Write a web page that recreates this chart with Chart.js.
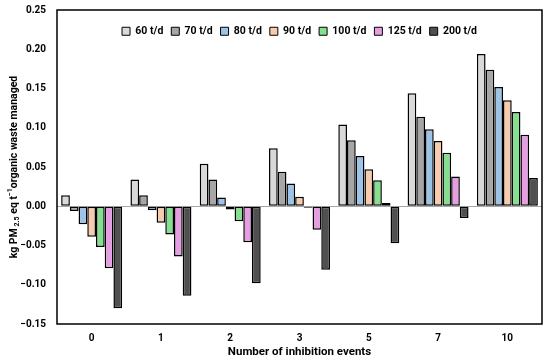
<!DOCTYPE html>
<html>
<head>
<meta charset="utf-8">
<script src="https://cdn.jsdelivr.net/npm/chart.js@4.4.1/dist/chart.umd.min.js"></script>
<style>
  html, body { margin: 0; padding: 0; background: #fff; }
  #wrap { width: 550px; height: 361px; }
</style>
</head>
<body>
<div id="wrap"><canvas id="pmChart"></canvas></div>
<script>
// Data
const events = ['0', '1', '2', '3', '5', '7', '10'];
const capacities = ['60 t/d', '70 t/d', '80 t/d', '90 t/d', '100 t/d', '125 t/d', '200 t/d'];
const fills = ['#d9d9d9', '#a6a6a6', '#9dc3e6', '#f8cbad', '#84df8e', '#e59ee2', '#505050'];

const pm60  = [0.014, 0.034, 0.054, 0.074, 0.104, 0.144, 0.194];
const pm70  = [-0.006, 0.014, 0.034, 0.044, 0.084, 0.114, 0.174];
const pm80  = [-0.023, -0.005, 0.011, 0.029, 0.064, 0.098, 0.152];
const pm90  = [-0.039, -0.021, -0.004, 0.012, 0.047, 0.083, 0.135];
const pm100 = [-0.052, -0.036, -0.019, -0.002, 0.033, 0.068, 0.120];
const pm125 = [-0.079, -0.064, -0.046, -0.030, 0.004, 0.038, 0.091];
const pm200 = [-0.130, -0.114, -0.098, -0.081, -0.047, -0.015, 0.036];

const yTicks = { min: -0.15, max: 0.25, step: 0.05 };

const FONT = "Roboto, 'Liberation Sans', Arial, sans-serif";
const series = [pm60, pm70, pm80, pm90, pm100, pm125, pm200];

// legend sits inside the plot box, so it should not take up layout height
const legendInside = {
    id: 'legendInside',
    beforeInit(chart) {
        const lg = chart.legend;
        const fit = lg.fit;
        lg.fit = function () {
            fit.bind(lg)();
            this.height = 0;
        };
        // skip the clip to the (now empty) legend box
        lg.draw = function () {
            if (!this.options.display) return;
            const ctx = this.ctx;
            ctx.save();
            ctx.translate(0, 8);
            this._draw();
            ctx.restore();
        };
    }
};

// black frame around the plot
const plotFrame = {
    id: 'plotFrame',
    afterDatasetsDraw(chart) {
        const a = chart.chartArea;
        const ctx = chart.ctx;
        ctx.save();
        ctx.strokeStyle = '#000';
        ctx.lineWidth = 1.5;
        ctx.strokeRect(a.left, a.top, a.right - a.left, a.bottom - a.top);
        ctx.restore();
    }
};

// rotated y title with subscript / superscript
const yTitle = {
    id: 'yTitle',
    afterDraw(chart) {
        const a = chart.chartArea;
        const ctx = chart.ctx;
        const parts = [
            { t: 'kg PM', s: 10.5, dy: 0 },
            { t: ' 2.5', s: 7, dy: 3 },
            { t: ' eq t', s: 10.5, dy: 0 },
            { t: '\u22121', s: 7, dy: -4 },
            { t: 'organic waste managed', s: 10.5, dy: 0 }
        ];
        ctx.save();
        let total = 0;
        parts.forEach(p => {
            ctx.font = 'bold ' + p.s + 'px ' + FONT;
            p.w = ctx.measureText(p.t).width;
            total += p.w;
        });
        ctx.translate(14, (a.top + a.bottom) / 2);
        ctx.rotate(-Math.PI / 2);
        ctx.fillStyle = '#000';
        ctx.textBaseline = 'middle';
        let x = -total / 2;
        parts.forEach(p => {
            ctx.font = 'bold ' + p.s + 'px ' + FONT;
            ctx.fillText(p.t, x, p.dy);
            x += p.w;
        });
        ctx.restore();
    }
};

function fmtTick(v) {
    if (Math.abs(v) < 1e-9) return '0.00';
    const s = Math.abs(v).toFixed(2);
    return v < 0 ? '\u2212' + s : s;
}

function createChart() {
    const ctx = document.getElementById('pmChart');
    new Chart(ctx, {
        type: 'bar',
        data: {
            labels: events,
            datasets: capacities.map((name, i) => ({
                label: name,
                data: series[i],
                backgroundColor: fills[i],
                borderColor: '#000',
                borderWidth: 1.5,
                borderSkipped: false,
                categoryPercentage: 0.88,
                barPercentage: 1.0
            }))
        },
        options: {
            responsive: true,
            maintainAspectRatio: false,
            animation: false,
            layout: { padding: { top: 10, right: 8, left: 0, bottom: 0 } },
            plugins: {
                tooltip: { enabled: false },
                legend: {
                    position: 'top',
                    fullSize: false,
                    labels: {
                        boxWidth: 8,
                        boxHeight: 8,
                        padding: 8,
                        color: '#000',
                        font: { family: FONT, size: 10.5, weight: 'bold' },
                        generateLabels(chart) {
                            return chart.data.datasets.map((ds, i) => ({
                                text: ds.label,
                                fillStyle: ds.backgroundColor,
                                strokeStyle: '#000',
                                lineWidth: 1,
                                datasetIndex: i
                            }));
                        }
                    }
                }
            },
            scales: {
                x: {
                    grid: { display: false, drawTicks: false },
                    border: { display: false },
                    ticks: {
                        color: '#000',
                        padding: 8,
                        font: { family: FONT, size: 10, weight: 'bold' }
                    },
                    title: {
                        display: true,
                        text: 'Number of inhibition events',
                        color: '#000',
                        padding: { top: 0, bottom: 2 },
                        font: { family: FONT, size: 11.5, weight: 'bold' }
                    },
                    afterFit(scale) { scale.height = 37; }
                },
                y: {
                    min: yTicks.min,
                    max: yTicks.max,
                    border: { display: false },
                    grid: {
                        drawTicks: true,
                        tickLength: 11,
                        tickColor: 'transparent',
                        lineWidth: 1,
                        color: c => (Math.abs(c.tick.value) < 1e-9 ? '#a6a6a6' : 'transparent')
                    },
                    ticks: {
                        stepSize: yTicks.step,
                        color: '#000',
                        padding: 0,
                        font: { family: FONT, size: 10, weight: 'bold' },
                        callback: v => fmtTick(v)
                    },
                    afterFit(scale) { scale.width = 57; }
                }
            }
        },
        plugins: [legendInside, plotFrame, yTitle]
    });
}

document.addEventListener('DOMContentLoaded', createChart);
</script>
</body>
</html>
